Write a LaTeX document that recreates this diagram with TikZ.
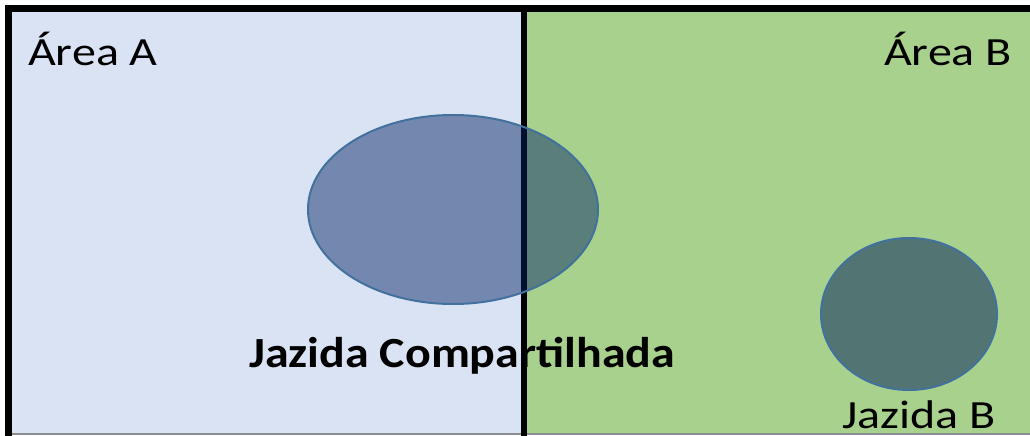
\documentclass[tikz,border=0pt]{standalone}
\usepackage{fontspec}
\setmainfont{Carlito}
\usetikzlibrary{shapes.geometric}
\definecolor{areaA}{HTML}{DAE3F3}
\definecolor{areaB}{HTML}{A9D18E}
\definecolor{jazfill}{RGB}{3,35,100}
\definecolor{jazline}{HTML}{41719C}
\definecolor{jazBfill}{HTML}{527574}
\newcommand{\wide}[1]{\scalebox{1.2}[1]{#1}}
\newcommand{\wideb}[1]{\scalebox{1.115}[1]{#1}}
\begin{document}
\begin{tikzpicture}[x=1pt,y=-1pt,
  border/.style={line width=7pt,black},
  jazida/.style={ellipse,draw=jazline,line width=2pt,inner sep=0pt},
  lbl/.style={inner sep=0pt,font=\fontsize{40}{48}\selectfont},
  blbl/.style={inner sep=0pt,font=\fontsize{43}{50}\selectfont\bfseries}]
\useasboundingbox (0,0) rectangle (1030,436);
\fill[white] (0,0) rectangle (1030,436);
\fill[areaA] (12,12) rectangle (523.5,433);
\fill[areaB] (523.5,12) rectangle (1030,433);
\draw[line width=1.5pt,color=black!45] (12,434) -- (1030,434);
\draw[border] (8.5,5) -- (8.5,436);
\draw[border] (5,8.5) -- (1030,8.5);
\draw[line width=6pt,black] (523.7,12) -- (523.7,436);
\node[jazida,fill=jazfill,fill opacity=0.47,minimum width=290pt,minimum height=189pt] (jc) at (453,209.5) {};
\node[jazida,fill=jazBfill,minimum width=176pt,minimum height=152pt] (jb) at (909,314) {};
\node[lbl,anchor=base west] (la) at (28,65.5) {\wide{Área A}};
\node[lbl,anchor=base east] (lb) at (1012,65.5) {\wide{Área B}};
\node[lbl,anchor=base west] (ljb) at (842,428) {\wide{Jazida B}};
\node[blbl,anchor=base west] (ljc) at (249,367) {\wideb{Jazida Compartilhada}};
\end{tikzpicture}
\end{document}
